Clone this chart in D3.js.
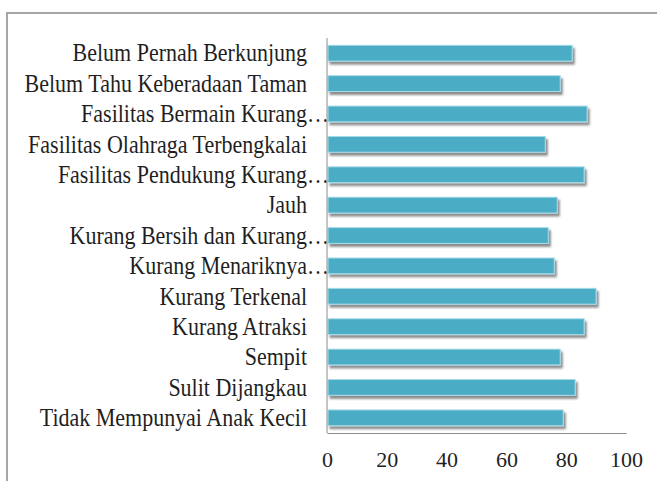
<!DOCTYPE html>
<html>
<head>
<meta charset="utf-8">
<script src="https://cdn.jsdelivr.net/npm/d3@7"></script>
<style>
  body { margin: 0; background: #fff; }
  svg { display: block; }
</style>
</head>
<body>
<div id="chart"></div>
<script>
// Categories (top to bottom) and their values
const categories = [
  'Belum Pernah Berkunjung',
  'Belum Tahu Keberadaan Taman',
  'Fasilitas Bermain Kurang…',
  'Fasilitas Olahraga Terbengkalai',
  'Fasilitas Pendukung Kurang…',
  'Jauh',
  'Kurang Bersih dan Kurang…',
  'Kurang Menariknya…',
  'Kurang Terkenal',
  'Kurang Atraksi',
  'Sempit',
  'Sulit Dijangkau',
  'Tidak Mempunyai Anak Kecil'
]
const values = [82, 78, 87, 73, 86, 77, 74, 76, 90, 86, 78, 83, 79]
const xTicks = [0, 20, 40, 60, 80, 100]

const width = 657
const height = 481
const margin = { top: 38, right: 31, bottom: 48, left: 327 }
const fontFamily = '"Liberation Serif", "Times New Roman", serif'

const svg = d3.select('#chart').append('svg')
  .attr('width', width)
  .attr('height', height)

// Drop shadow for the bars
const defs = svg.append('defs')
defs.append('filter')
  .attr('id', 'shadow')
  .attr('x', '-10%').attr('y', '-30%')
  .attr('width', '130%').attr('height', '190%')
  .append('feDropShadow')
  .attr('dx', 2)
  .attr('dy', 3)
  .attr('stdDeviation', 1.3)
  .attr('flood-color', '#000')
  .attr('flood-opacity', 0.45)

// Outer frame (runs off the right and bottom edges)
svg.append('rect')
  .attr('x', 7)
  .attr('y', 13)
  .attr('width', 720)
  .attr('height', 520)
  .attr('fill', 'none')
  .attr('stroke', '#a6a6a6')
  .attr('stroke-width', 2)

const xScale = d3.scaleLinear()
  .domain([0, 100])
  .range([margin.left, width - margin.right])

const yScale = d3.scaleBand()
  .domain(categories)
  .range([margin.top, height - margin.bottom])
  .paddingInner(0.48)
  .paddingOuter(0.24)

// Bars
svg.append('g')
  .selectAll('rect')
  .data(categories)
  .join('rect')
  .attr('x', xScale(0) + 1)
  .attr('y', d => yScale(d))
  .attr('width', (d, i) => xScale(values[i]) - xScale(0) - 1)
  .attr('height', yScale.bandwidth())
  .attr('fill', '#4bacc6')
  .attr('stroke', '#a8dbe8')
  .attr('stroke-width', 1)
  .attr('filter', 'url(#shadow)')

// Category labels (slightly stretched vertically, like the source)
svg.append('g')
  .selectAll('text')
  .data(categories)
  .join('text')
  .attr('transform', d => {
    const x = d.endsWith('…') ? xScale(0) + 2 : xScale(0) - 20
    const y = yScale(d) + yScale.bandwidth() / 2
    return `translate(${x}, ${y}) scale(1, 1.1)`
  })
  .attr('dy', '0.34em')
  .attr('text-anchor', 'end')
  .attr('fill', '#1f1f1f')
  .style('font-family', fontFamily)
  .style('font-size', '22px')
  .text(d => d)

// Axes
const xAxis = svg.append('g')
  .attr('transform', `translate(0, ${height - margin.bottom})`)
  .call(d3.axisBottom(xScale).tickValues(xTicks).tickSize(0).tickPadding(18))
xAxis.select('.domain').attr('stroke', '#8c8c8c')
xAxis.selectAll('text')
  .attr('fill', '#1f1f1f')
  .style('font-family', fontFamily)
  .style('font-size', '22px')

svg.append('line')
  .attr('x1', xScale(0))
  .attr('x2', xScale(0))
  .attr('y1', margin.top)
  .attr('y2', height - margin.bottom)
  .attr('stroke', '#8c8c8c')
</script>
</body>
</html>
